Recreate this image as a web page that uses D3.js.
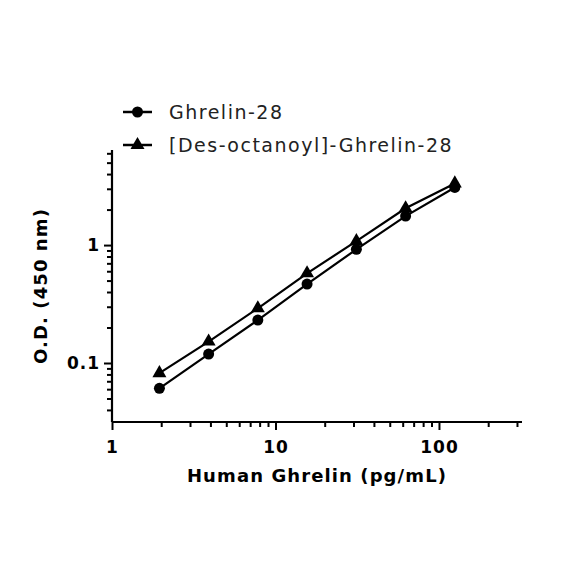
<!DOCTYPE html>
<html>
<head>
<meta charset="utf-8">
<script src="https://cdn.jsdelivr.net/npm/d3@7"></script>
<style>
  body { margin: 0; background: #fff; }
  text { font-family: "DejaVu Sans", sans-serif; }
</style>
</head>
<body>
<div id="chart"></div>
<script>
// configure chart
const width = 584
const height = 584

// data: concentrations (pg/mL) and O.D. readings
var concentrations = [1.95, 3.9, 7.8, 15.6, 31.25, 62.5, 125];
var ghrelin28 = [0.061, 0.119, 0.231, 0.467, 0.92, 1.76, 3.08];
var desOctanoyl = [0.082, 0.152, 0.291, 0.576, 1.08, 2.05, 3.33];
var seriesNames = ['Ghrelin-28', '[Des-octanoyl]-Ghrelin-28'];
var xTickLabels = [1, 10, 100];
var yTickLabels = [0.1, 1];

window.onload = function(){
	var svg = d3.select('#chart').append('svg')
		.attr('width', width)
		.attr('height', height);

	var x = d3.scaleLog().domain([1, 322]).range([112, 522]);
	var y = d3.scaleLog().domain([0.0316, 6.4]).range([422, 150]);

	// minor + major tick values
	var xTicks = [];
	for (let d of [1, 10, 100]) {
		for (let m = 1; m < 10; m++) {
			if (d * m <= 322) xTicks.push(d * m);
		}
	}
	var yTicks = [];
	for (let d of [0.01, 0.1, 1]) {
		for (let m = 1; m < 10; m++) {
			var v = +(d * m).toFixed(3);
			if (v >= 0.0316 && v <= 6.4) yTicks.push(v);
		}
	}

	// x axis
	var xAxis = svg.append('g')
		.attr('transform', 'translate(0,422)')
		.call(d3.axisBottom(x).tickValues(xTicks).tickSizeOuter(0)
			.tickFormat(function(d){ return xTickLabels.includes(d) ? d : ''; }));
	// y axis
	var yAxis = svg.append('g')
		.attr('transform', 'translate(112,0)')
		.call(d3.axisLeft(y).tickValues(yTicks).tickSizeOuter(0)
			.tickFormat(function(d){ return yTickLabels.includes(d) ? d : ''; }));

	xAxis.selectAll('.tick line')
		.attr('y2', function(d){ return xTickLabels.includes(d) ? 8 : 5; });
	yAxis.selectAll('.tick line')
		.attr('x2', function(d){ return yTickLabels.includes(d) ? -8 : -5; });

	for (let ax of [xAxis, yAxis]) {
		ax.select('.domain').attr('stroke', '#000').attr('stroke-width', 2.2);
		ax.selectAll('.tick line').attr('stroke', '#000').attr('stroke-width', 2);
		ax.selectAll('.tick text')
			.attr('fill', '#000')
			.style('font-size', '17px')
			.style('font-weight', 'bold')
			.style('letter-spacing', '1px')
			.style('font-family', '"DejaVu Sans", sans-serif');
	}
	xAxis.selectAll('.tick text').attr('y', 19);
	yAxis.selectAll('.tick text').attr('x', -12);
	// axis lines span the full range
	xAxis.select('.domain').attr('d', 'M' + x.range()[0] + ',0H' + x.range()[1]);
	yAxis.select('.domain').attr('d', 'M0,' + y.range()[0] + 'V' + y.range()[1]);

	// axis titles
	svg.append('text')
		.attr('x', 317).attr('y', 482)
		.attr('text-anchor', 'middle')
		.style('font-size', '18px').style('font-weight', 'bold')
		.style('letter-spacing', '1.1px')
		.text('Human Ghrelin (pg/mL)');
	svg.append('text')
		.attr('transform', 'translate(47,286) rotate(-90)')
		.attr('text-anchor', 'middle')
		.style('font-size', '18px').style('font-weight', 'bold')
		.style('letter-spacing', '1.1px')
		.text('O.D. (450 nm)');

	// series lines and markers
	var line = d3.line()
		.x(function(d){ return x(d[0]); })
		.y(function(d){ return y(d[1]); });
	var tri = d3.symbol().type(d3.symbolTriangle).size(85);

	var series = [ghrelin28, desOctanoyl];
	series.forEach(function(vals, i){
		var pts = concentrations.map(function(c, j){ return [c, vals[j]]; });
		svg.append('path')
			.datum(pts)
			.attr('d', line)
			.attr('fill', 'none')
			.attr('stroke', '#000')
			.attr('stroke-width', 2.2);
		var marks = svg.append('g').selectAll('.pt').data(pts).enter();
		if (i == 0) {
			marks.append('circle')
				.attr('cx', function(d){ return x(d[0]); })
				.attr('cy', function(d){ return y(d[1]); })
				.attr('r', 5.5).attr('fill', '#000');
		} else {
			marks.append('path')
				.attr('d', tri)
				.attr('transform', function(d){ return 'translate(' + x(d[0]) + ',' + y(d[1]) + ')'; })
				.attr('fill', '#000');
		}
	});

	// legend
	var legend = svg.append('g');
	seriesNames.forEach(function(name, i){
		var ly = 112 + i * 33;
		legend.append('line')
			.attr('x1', 123).attr('x2', 152).attr('y1', ly).attr('y2', ly)
			.attr('stroke', '#000').attr('stroke-width', 2.5);
		if (i == 0) {
			legend.append('circle').attr('cx', 137.5).attr('cy', ly).attr('r', 5.5).attr('fill', '#000');
		} else {
			legend.append('path').attr('d', tri)
				.attr('transform', 'translate(137.5,' + ly + ')').attr('fill', '#000');
		}
		legend.append('text')
			.attr('x', 169).attr('y', ly + 7)
			.attr('fill', '#222')
			.style('font-size', '19px')
			.style('letter-spacing', '1.5px')
			.text(name);
	});
}
</script>
</body>
</html>
